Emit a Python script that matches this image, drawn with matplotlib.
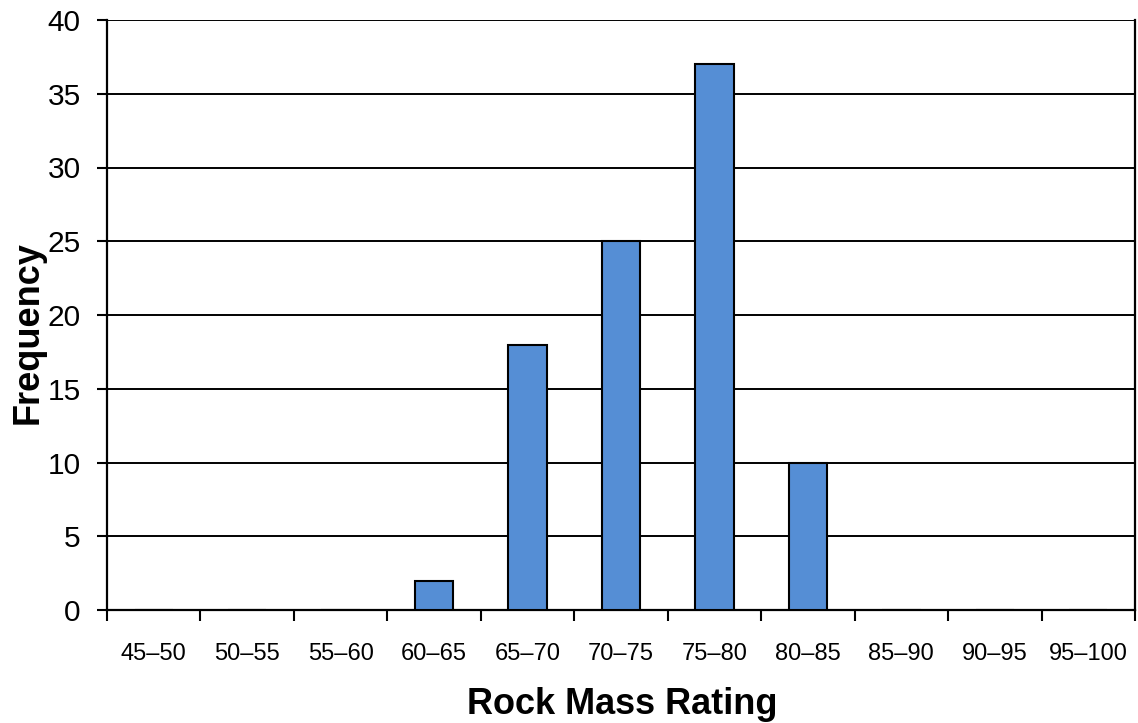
import matplotlib
matplotlib.use("Agg")
import matplotlib.pyplot as plt
import numpy as np

categories = ["45–50", "50–55", "55–60", "60–65", "65–70", "70–75",
              "75–80", "80–85", "85–90", "90–95", "95–100"]
frequency = [0, 0, 0, 2, 18, 25, 37, 10, 0, 0, 0]
yticks = [0, 5, 10, 15, 20, 25, 30, 35, 40]

plt.rcParams['font.family'] = ['Liberation Sans', 'DejaVu Sans']

fig = plt.figure(figsize=(11.38, 7.23), dpi=100)
ax = fig.add_axes([107/1138, 113/723, (1135-107)/1138, (610-20)/723])

x = np.arange(len(categories))
ax.bar(x, frequency, width=0.41, color='#558ED5', edgecolor='black',
       linewidth=1.5, zorder=3)

ax.set_xlim(-0.5, len(categories) - 0.5)
ax.set_ylim(0, 40)
ax.set_yticks(yticks)
ax.set_yticklabels([str(v) for v in yticks], fontsize=21.5)
ax.yaxis.grid(True, color='black', linewidth=1.4, zorder=0)
ax.set_axisbelow(True)

ax.set_xticks(x)
ax.set_xticklabels(categories, fontsize=17)
ax.set_xticks(np.arange(-0.5, len(categories)), minor=True)
ax.tick_params(axis='x', which='major', length=0, pad=24)
ax.tick_params(axis='x', which='minor', length=8, width=1.5, direction='out')
ax.tick_params(axis='y', length=7, width=1.5, direction='out', pad=12)

for side in ['left', 'bottom', 'right']:
    ax.spines[side].set_linewidth(1.6)
ax.spines['top'].set_visible(False)

ax.set_xlabel("Rock Mass Rating", fontsize=26, fontweight='bold', va='center')
ax.xaxis.set_label_coords((622 - 107) / 1028, (610 - 705) / 590)
ax.set_ylabel("Frequency", fontsize=26, fontweight='bold', va='center')
ax.yaxis.set_label_coords((28 - 107) / 1028, (610 - 333) / 590)

fig.savefig("out.png", dpi=100)
